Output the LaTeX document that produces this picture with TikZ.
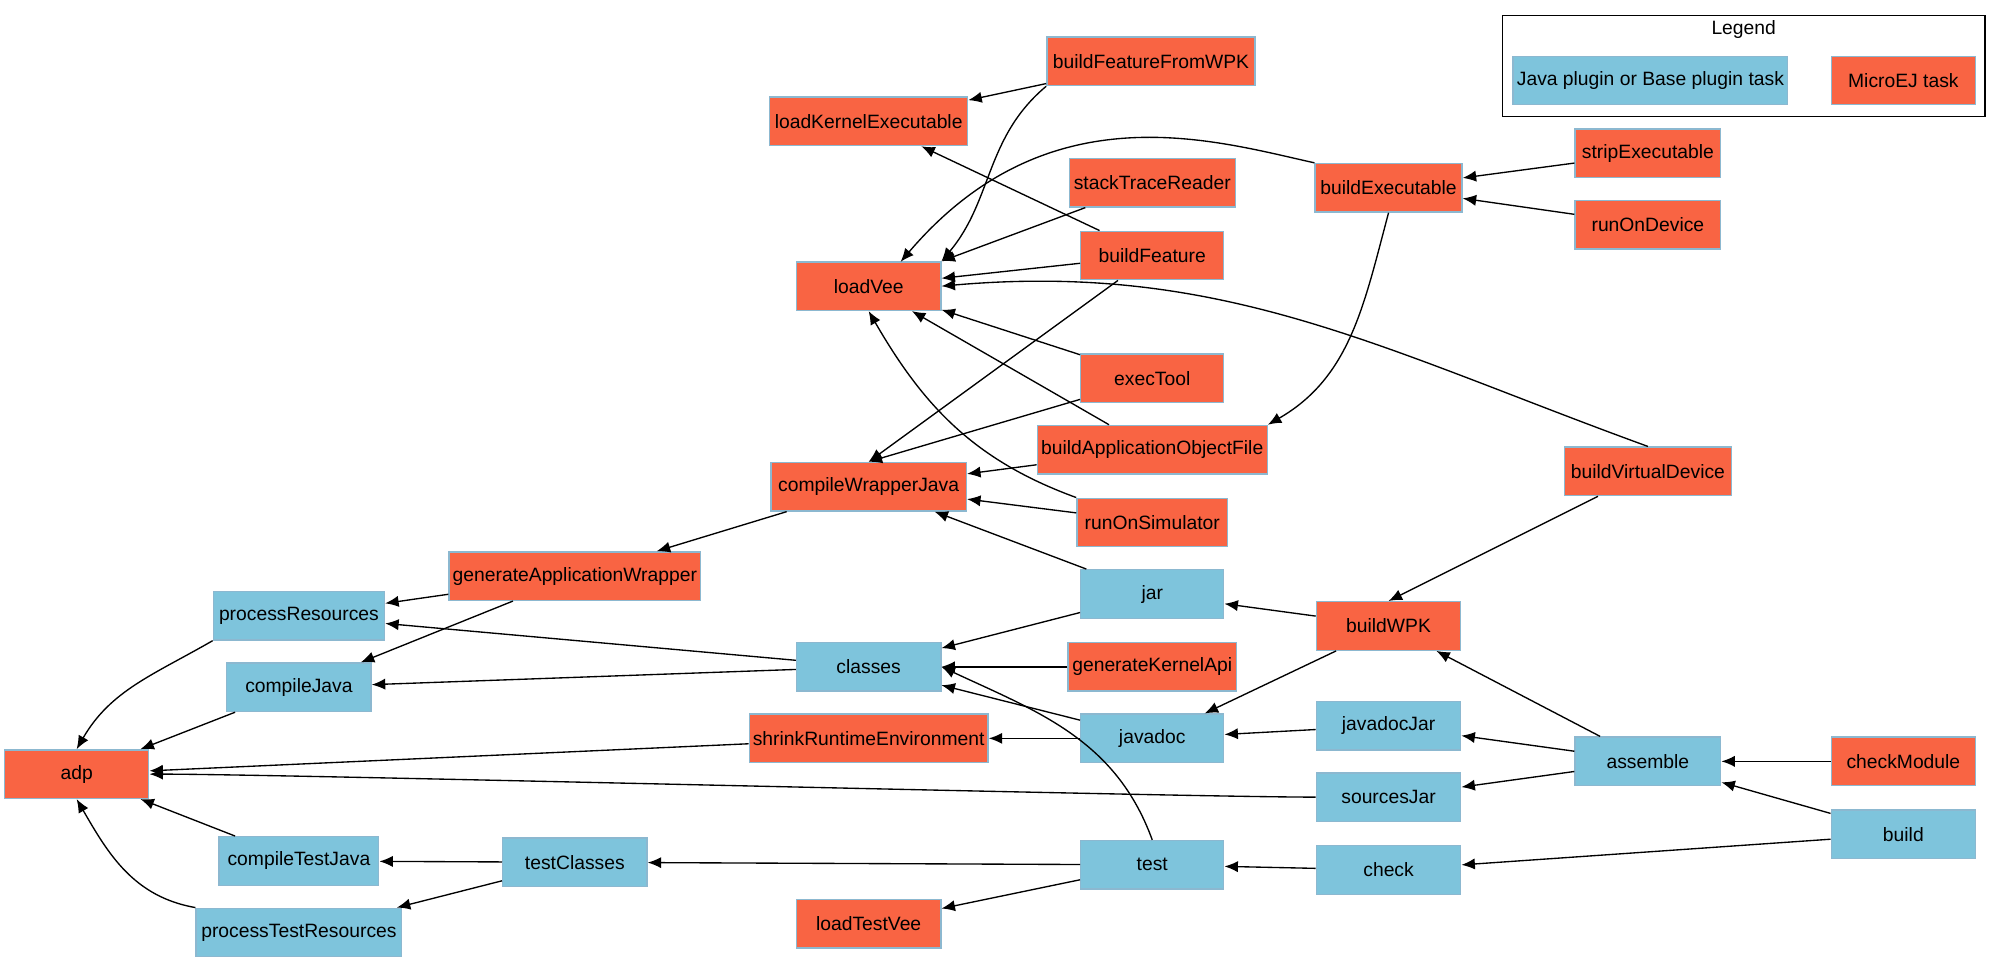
\documentclass[tikz,border=0pt]{standalone}
\usepackage{fontspec}
\setmainfont{Liberation Sans}
\usetikzlibrary{arrows.meta}
\definecolor{jb}{HTML}{7EC4DC}
\definecolor{mr}{HTML}{F96443}
\definecolor{bd}{HTML}{8CB8D0}
\begin{document}
\begin{tikzpicture}[x=0.02cm,y=-0.02cm,
  box/.style={draw=bd,line width=0.6pt,minimum height=38*0.02cm,inner sep=1pt,font=\fontsize{8.6}{10}\selectfont},
  J/.style={box,fill=jb}, M/.style={box,fill=mr},
  e/.style={-{Latex[length=6pt,width=5pt]},line width=0.6pt}]
\useasboundingbox (0,0) rectangle (1568,754);
\newcommand\tn[4]{\node[#1,minimum width=#4*0.02cm] (#2) at (#3) {#2};}
\tn{M}{buildFeatureFromWPK}{901,48}{163}
\tn{M}{loadKernelExecutable}{680,95}{155}
\tn{M}{buildExecutable}{1087,147}{115}
\tn{M}{stripExecutable}{1290,120}{114}
\tn{M}{runOnDevice}{1290,176}{114}
\tn{M}{stackTraceReader}{902,143}{130}
\tn{M}{buildFeature}{902,200}{112}
\tn{M}{loadVee}{680,224}{113}
\tn{M}{execTool}{902,296}{112}
\tn{M}{buildApplicationObjectFile}{902,352}{180}
\tn{M}{buildVirtualDevice}{1290,369}{131}
\tn{M}{compileWrapperJava}{680,381}{153}
\tn{M}{runOnSimulator}{902,409}{118}
\tn{M}{generateApplicationWrapper}{450,451}{197}
\tn{J}{processResources}{234,482}{134}
\tn{J}{jar}{902,465}{112}
\tn{M}{buildWPK}{1087,490}{113}
\tn{J}{compileJava}{234,538}{113}
\tn{J}{classes}{680,522}{113}
\tn{M}{generateKernelApi}{902,522}{132}
\tn{M}{shrinkRuntimeEnvironment}{680,578}{187}
\tn{J}{javadoc}{902,578}{112}
\tn{J}{javadocJar}{1087,568}{113}
\tn{J}{assemble}{1290,596}{114}
\tn{M}{checkModule}{1490,596}{113}
\tn{M}{adp}{60,606}{113}
\tn{J}{sourcesJar}{1087,624}{113}
\tn{J}{build}{1490,653}{113}
\tn{J}{compileTestJava}{234,674}{125}
\tn{J}{testClasses}{450,675}{113}
\tn{J}{test}{902,677}{112}
\tn{J}{check}{1087,681}{113}
\tn{M}{loadTestVee}{680,723}{113}
\tn{J}{processTestResources}{234,730}{161}
% legend
\node[draw,line width=0.6pt,minimum width=378*0.02cm,minimum height=79*0.02cm] (legend) at (1365,51.5) {};
\node[font=\fontsize{8.6}{10}\selectfont] (lt) at (1365,23) {Legend};
\node[J,minimum width=215*0.02cm] (l1) at (1292,63) {Java plugin or Base plugin task};
\node[M,minimum width=113*0.02cm] (l2) at (1490,63) {MicroEJ task};
% edges
\draw[e] (buildFeatureFromWPK) -- (loadKernelExecutable);
\draw[e] (buildFeatureFromWPK.south west) to[out=-140,in=50] (loadVee.north east);
\draw[e] (buildExecutable.north west) .. controls (950,110) and (820,70) .. (705,205);
\draw[e] (buildExecutable.south) to[out=-105,in=30] (buildApplicationObjectFile.north east);
\draw[e] (stripExecutable) -- (buildExecutable);
\draw[e] (runOnDevice) -- (buildExecutable);
\draw[e] (stackTraceReader) -- (loadVee.north east);
\draw[e] (buildFeature) -- (loadKernelExecutable);
\draw[e] (buildFeature) -- (loadVee);
\draw[e] (buildFeature) -- (compileWrapperJava.north);
\draw[e] (execTool) -- (loadVee);
\draw[e] (execTool) -- (compileWrapperJava.north);
\draw[e] (buildApplicationObjectFile) -- (loadVee);
\draw[e] (buildApplicationObjectFile) -- (compileWrapperJava);
\draw[e] (runOnSimulator.north west) to[out=160,in=-60] (loadVee.south);
\draw[e] (runOnSimulator) -- (compileWrapperJava);
\draw[e] (buildVirtualDevice.north) to[out=160,in=5] (loadVee.east);
\draw[e] (buildVirtualDevice) -- (buildWPK.north);
\draw[e] (compileWrapperJava) -- (generateApplicationWrapper);
\draw[e] (generateApplicationWrapper) -- (processResources);
\draw[e] (generateApplicationWrapper) -- (compileJava);
\draw[e] (jar) -- (compileWrapperJava);
\draw[e] (jar) -- (classes);
\draw[e] (buildWPK) -- (jar);
\draw[e] (buildWPK) -- (javadoc);
\draw[e] (classes) -- (processResources);
\draw[e] (classes) -- (compileJava);
\draw[e] (generateKernelApi) -- (classes);
\draw[e] (javadoc) -- (classes);
\draw[e] (javadoc) -- (shrinkRuntimeEnvironment);
\draw[e] (shrinkRuntimeEnvironment) -- (adp);
\draw[e] (javadocJar) -- (javadoc);
\draw[e] (assemble) -- (buildWPK);
\draw[e] (assemble) -- (javadocJar);
\draw[e] (assemble) -- (sourcesJar);
\draw[e] (checkModule) -- (assemble);
\draw[e] (build) -- (assemble);
\draw[e] (build) -- (check);
\draw[e] (sourcesJar.west) to[out=180,in=0,looseness=0.3] (adp.east);
\draw[e] (processResources.south west) to[out=-150,in=60] (adp.north);
\draw[e] (compileJava) -- (adp);
\draw[e] (compileTestJava) -- (adp);
\draw[e] (processTestResources.north west) to[out=170,in=-60] (adp.south);
\draw[e] (testClasses) -- (compileTestJava);
\draw[e] (testClasses) -- (processTestResources);
\draw[e] (test) -- (testClasses);
\draw[e] (test.north) to[out=110,in=-25] (classes.east);
\draw[e] (test) -- (loadTestVee);
\draw[e] (check) -- (test);
\end{tikzpicture}
\end{document}
